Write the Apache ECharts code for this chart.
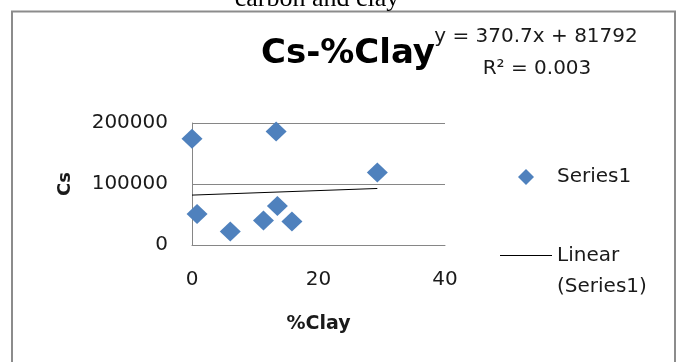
<!DOCTYPE html>
<html>
<head>
<meta charset="utf-8">
<script src="https://cdn.jsdelivr.net/npm/echarts@6/dist/echarts.min.js"></script>
<style>
  html, body { margin: 0; padding: 0; background: #ffffff; }
  #chart { width: 683px; height: 362px; }
</style>
</head>
<body>
<div id="chart"></div>
<script>
// %Clay vs Cs measurements
const clay = [0, 13.3, 29.3, 0.8, 6.05, 11.3, 13.5, 15.8];
const cs = [174000, 186000, 119000, 51000, 22000, 40000, 64000, 38500];

// Least-squares trendline as reported on the chart
const slope = 370.7;
const intercept = 81792;
const rSquared = '0.003';

// Axis ticks
const xTicks = [0, 20, 40];
const yTicks = [0, 100000, 200000];

const points = clay.map((x, i) => [x, cs[i]]);
const xMin = Math.min(...clay);
const xMax = Math.max(...clay);
const trend = [xMin, xMax].map(x => [x, slope * x + intercept]);

const font = 'DejaVu Sans';
const ink = '#1a1a1a';
const gridGray = '#868686';

const chart = echarts.init(document.getElementById('chart'), null, { renderer: 'canvas' });

chart.setOption({
  backgroundColor: '#ffffff',
  animation: false,
  grid: { left: 192, top: 123, width: 253, height: 122, containLabel: false },
  xAxis: {
    type: 'value',
    min: xTicks[0],
    max: xTicks[xTicks.length - 1],
    interval: xTicks[1] - xTicks[0],
    name: '%Clay',
    nameLocation: 'middle',
    nameGap: 70,
    nameTextStyle: { fontFamily: font, fontWeight: 'bold', fontSize: 19, color: ink },
    axisLine: { show: true, lineStyle: { color: gridGray, width: 1 } },
    axisTick: { show: false },
    splitLine: { show: false },
    axisLabel: { fontFamily: font, fontSize: 20, color: ink, margin: 25 }
  },
  yAxis: {
    type: 'value',
    min: yTicks[0],
    max: yTicks[yTicks.length - 1],
    interval: yTicks[1] - yTicks[0],
    name: 'Cs',
    nameLocation: 'middle',
    nameRotate: 90,
    nameGap: 118,
    nameTextStyle: { fontFamily: font, fontWeight: 'bold', fontSize: 18, color: ink },
    axisLine: { show: true, lineStyle: { color: gridGray, width: 1 } },
    axisTick: { show: false },
    splitLine: { show: true, lineStyle: { color: gridGray, width: 1 } },
    axisLabel: {
      fontFamily: font, fontSize: 20, color: ink, margin: 24,
      formatter: v => String(v)
    }
  },
  legend: [
    {
      data: [{ name: 'Series1', icon: 'diamond' }],
      left: 518, top: 167, padding: 0,
      itemWidth: 16, itemHeight: 16,
      selectedMode: false,
      textStyle: { fontFamily: font, fontSize: 20, color: ink, padding: [0, 0, 0, 18] }
    },
    {
      data: [{ name: 'Linear (Series1)', icon: 'rect' }],
      left: 500, top: 209, padding: 0,
      itemWidth: 52, itemHeight: 1.2,
      selectedMode: false,
      formatter: () => '\nLinear\n(Series1)',
      textStyle: { fontFamily: font, fontSize: 20, color: ink, lineHeight: 31 }
    }
  ],
  title: [
    {
      text: 'Cs-%Clay',
      left: 261, top: 37, padding: 0,
      textStyle: { fontFamily: font, fontWeight: 'bold', fontSize: 34, color: '#000000' }
    }
  ],
  graphic: [
    {
      type: 'rect',
      shape: { x: 12, y: 11.5, width: 663, height: 420 },
      style: { fill: 'none', stroke: '#8c8c8c', lineWidth: 2 },
      silent: true
    },
    {
      type: 'text',
      x: 317, y: 12,
      style: {
        text: 'carbon and clay',
        font: '26px "Liberation Serif", serif',
        fill: '#000000',
        align: 'center',
        verticalAlign: 'bottom'
      },
      silent: true
    },
    {
      type: 'text',
      x: 536, y: 37,
      style: {
        text: 'y = ' + slope + 'x + ' + intercept,
        font: '20px "DejaVu Sans"',
        fill: ink,
        align: 'center',
        verticalAlign: 'middle'
      },
      silent: true
    },
    {
      type: 'text',
      x: 537, y: 69,
      style: {
        text: 'R² = ' + rSquared,
        font: '20px "DejaVu Sans"',
        fill: ink,
        align: 'center',
        verticalAlign: 'middle'
      },
      silent: true
    }
  ],
  series: [
    {
      name: 'Series1',
      type: 'scatter',
      data: points,
      symbol: 'diamond',
      symbolSize: [21, 20],
      itemStyle: { color: '#4F81BD', opacity: 1 },
      z: 3
    },
    {
      name: 'Linear (Series1)',
      type: 'line',
      data: trend,
      symbol: 'none',
      lineStyle: { color: '#000000', width: 1 },
      itemStyle: { color: '#000000' },
      z: 2
    }
  ]
});
</script>
</body>
</html>
